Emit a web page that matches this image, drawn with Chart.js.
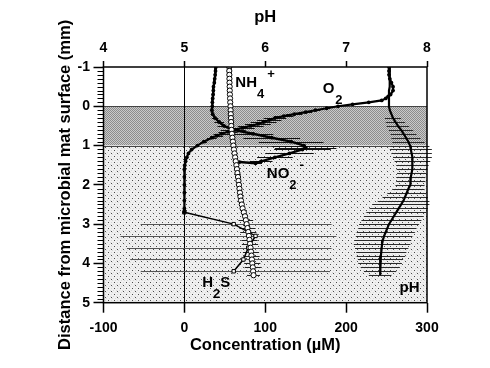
<!DOCTYPE html>
<html>
<head>
<meta charset="utf-8">
<script src="https://cdn.jsdelivr.net/npm/chart.js@4.4.1/dist/chart.umd.min.js"></script>
<style>
  html, body { margin: 0; padding: 0; background: #fff; }
  canvas { display: block; }
</style>
</head>
<body>
<canvas id="chart" width="490" height="368"></canvas>
<script>
// depth in mm (negative = water above the mat), concentrations in µM
const nh4Depth = [-1.0, -0.9, -0.8, -0.7, -0.6, -0.5, -0.4, -0.3, -0.2, -0.1,
  0.0, 0.1, 0.2, 0.3, 0.4, 0.5, 0.6, 0.7, 0.8, 0.9,
  1.0, 1.1, 1.2, 1.3, 1.4, 1.5, 1.6, 1.7, 1.8, 1.9,
  2.0, 2.1, 2.2, 2.3, 2.4, 2.5, 2.6, 2.7, 2.8, 2.9,
  3.0, 3.1, 3.2, 3.3, 3.4, 3.5, 3.6, 3.7, 3.8, 3.9,
  4.0, 4.1, 4.2, 4.3];
const nh4Conc = [55.5, 55.5, 55.6, 55.7, 55.8, 56.0, 56.1, 56.3, 56.5, 56.7,
  57.0, 57.2, 57.4, 57.6, 57.8, 58.0, 58.3, 58.8, 59.4, 60.0,
  60.6, 61.3, 62.0, 62.8, 63.5, 64.3, 65.0, 65.6, 66.3, 66.9,
  67.5, 68.1, 68.7, 69.3, 70.0, 71.0, 72.0, 73.5, 75.0, 76.0,
  77.0, 78.0, 79.0, 79.8, 80.5, 81.2, 81.8, 82.4, 83.0, 83.5,
  84.0, 84.6, 85.0, 85.5];
const nh4Err = [0, 0, 0, 0, 0, 0, 0, 0, 0, 0,
  0, 0, 0, 0, 0, 0, 0, 0, 0, 0,
  0, 0, 0, 0, 0, 0, 0, 0, 0, 0,
  0, 0, 0, 0, 0, 0, 0, 0, 0, 9,
  10, 10, 10, 11, 10, 10, 10, 10, 10, 10,
  10, 10, 9, 8];

const o2Depth = [-1.0, -0.9, -0.8, -0.7, -0.6, -0.5, -0.4, -0.3, -0.25, -0.2,
  -0.15, -0.1, -0.05, 0.0, 0.05, 0.1, 0.15, 0.2, 0.25, 0.3,
  0.35, 0.4, 0.45, 0.5, 0.55, 0.6, 0.65, 0.7, 0.75, 0.8,
  0.9, 1.0, 1.1, 1.2, 1.3, 1.4, 1.5, 1.6, 1.8, 2.0,
  2.2, 2.4, 2.6, 2.7];
const o2Conc = [253, 253, 253, 254, 256, 258, 258, 255, 252, 249,
  244, 228, 208, 190, 176, 162, 150, 136, 123, 112,
  105, 98, 91, 82, 72, 62, 54, 46, 40, 34,
  24, 16, 9, 5, 3, 1.5, 0.5, 0, 0, 0,
  0, 0, 0, 0];
const o2Err = [0, 0, 0, 0, 0, 0, 0, 0, 0, 0,
  0, 0, 0, 0, 4, 6, 8, 10, 12, 14,
  15, 16, 16, 16, 15, 14, 12, 10, 8, 6,
  4, 0, 0, 0, 0, 0, 0, 0, 0, 0,
  0, 0, 0, 0];

const no2Depth = [-1.0, -0.9, -0.8, -0.7, -0.6, -0.5, -0.4, -0.3, -0.2, -0.1,
  0.0, 0.1, 0.2, 0.3, 0.4, 0.5, 0.6, 0.7, 0.8, 0.9,
  1.0, 1.05, 1.1, 1.2, 1.3, 1.4, 1.45, 1.42];
const no2Conc = [39, 38.5, 38, 37.5, 37, 36, 35.8, 35.5, 35, 34.6,
  34.5, 34, 35, 38, 43, 49, 60, 85, 108, 132,
  148, 150, 146, 130, 112, 95, 88, 68];
const no2Err = [0, 0, 0, 0, 0, 0, 0, 0, 0, 0,
  0, 0, 0, 4, 6, 8, 15, 25, 35, 40,
  40, 38, 35, 30, 22, 14, 8, 0];

const h2sDepth = [2.7, 3.0, 3.3, 3.6, 3.9, 4.2];
const h2sConc = [0, 61, 88, 79, 73, 61];
const h2sLow = [0, -54, -79, -71, -67, -54];
const h2sHigh = [0, 182, 188, 182, 182, 180];

const phDepth = nh4Depth.slice();
const phValue = [7.54, 7.54, 7.54, 7.54, 7.54, 7.535, 7.53, 7.53, 7.53, 7.53,
  7.53, 7.54, 7.56, 7.58, 7.61, 7.64, 7.68, 7.71, 7.74, 7.77,
  7.79, 7.80, 7.81, 7.82, 7.82, 7.82, 7.815, 7.81, 7.80, 7.80,
  7.79, 7.77, 7.75, 7.73, 7.71, 7.68, 7.65, 7.62, 7.59, 7.56,
  7.53, 7.51, 7.49, 7.47, 7.455, 7.445, 7.44, 7.435, 7.43, 7.425,
  7.42, 7.42, 7.42, 7.42];
const phErr = [0, 0, 0, 0, 0, 0, 0, 0, 0, 0,
  0, 0, 0, 0.10, 0.12, 0.14, 0.15, 0.16, 0.18, 0.20,
  0.24, 0.26, 0.25, 0.24, 0.22, 0.20, 0.19, 0.18, 0.18, 0.18,
  0.18, 0.20, 0.24, 0.28, 0.32, 0.35, 0.36, 0.37, 0.37, 0.37,
  0.37, 0.36, 0.36, 0.35, 0.35, 0.35, 0.33, 0.31, 0.30, 0.28,
  0.27, 0.24, 0.20, 0.14];

const concTicks = [-100, 0, 100, 200, 300];
const phTicks = [4, 5, 6, 7, 8];
const depthTicks = [-1, 0, 1, 2, 3, 4, 5];
const zoneEdges = [0, 1, 5]; // dark mat layer, then dotted sediment

const FONT = '"Liberation Sans", Arial, Helvetica, sans-serif';
Chart.defaults.font.family = FONT;
Chart.defaults.font.weight = 'bold';
Chart.defaults.color = '#000';

const ctx = document.getElementById('chart').getContext('2d');

function points(depth, vals) {
  return depth.map((d, i) => ({ x: vals[i], y: d }));
}
function withErr(ds, vals, err) {
  ds.errLow = vals.map((v, i) => v - err[i]);
  ds.errHigh = vals.map((v, i) => v + err[i]);
  return ds;
}

function makePattern(size, draw) {
  const c = document.createElement('canvas');
  c.width = size; c.height = size;
  draw(c.getContext('2d'));
  return ctx.createPattern(c, 'repeat');
}
const darkFill = makePattern(2, g => {
  g.fillStyle = '#cacaca'; g.fillRect(0, 0, 2, 2);
  g.fillStyle = '#8c8c8c'; g.fillRect(0, 0, 1, 1); g.fillRect(1, 1, 1, 1);
});
const dotFill = makePattern(6, g => {
  g.fillStyle = '#f0f0f0'; g.fillRect(0, 0, 6, 6);
  g.fillStyle = '#d8d8d8';
  for (let i = 0; i < 6; i += 2) { g.fillRect(i, i, 1, 1); g.fillRect((i + 3) % 6, i, 1, 1); }
  g.fillStyle = '#4a4a4a'; g.fillRect(0, 0, 1, 1); g.fillRect(3, 3, 1, 1);
});

const backdrop = {
  id: 'backdrop',
  beforeDraw(chart) {
    const c = chart.ctx, a = chart.chartArea, ys = chart.scales.y;
    c.save();
    c.fillStyle = '#fff';
    c.fillRect(0, 0, chart.width, chart.height);
    const y0 = ys.getPixelForValue(zoneEdges[0]);
    const y1 = ys.getPixelForValue(zoneEdges[1]);
    const y2 = ys.getPixelForValue(zoneEdges[2]);
    c.fillStyle = darkFill;
    c.fillRect(a.left, y0, a.right - a.left, y1 - y0);
    c.fillStyle = dotFill;
    c.fillRect(a.left, y1, a.right - a.left, y2 - y1);
    c.strokeStyle = '#444';
    c.lineWidth = 1;
    [y0, y1].forEach(y => {
      c.beginPath();
      c.moveTo(a.left, Math.round(y) + 0.5);
      c.lineTo(a.right, Math.round(y) + 0.5);
      c.stroke();
    });
    c.restore();
  }
};

const errorBars = {
  id: 'errorBars',
  beforeDatasetsDraw(chart) {
    const c = chart.ctx;
    chart.data.datasets.forEach((ds, i) => {
      if (!ds.errLow) return;
      const meta = chart.getDatasetMeta(i);
      const xs = chart.scales[meta.xAxisID], ys = chart.scales[meta.yAxisID];
      c.save();
      c.strokeStyle = ds.errColor || '#000';
      c.lineWidth = 1;
      ds.data.forEach((p, j) => {
        if (ds.errLow[j] === ds.errHigh[j]) return;
        const y = Math.round(ys.getPixelForValue(p.y)) + 0.5;
        c.beginPath();
        c.moveTo(xs.getPixelForValue(ds.errLow[j]), y);
        c.lineTo(xs.getPixelForValue(ds.errHigh[j]), y);
        c.stroke();
      });
      c.restore();
    });
  }
};

// chemical labels: [text, kind] where kind 0 = normal, 1 = subscript, 2 = superscript
function chemLabel(c, x, y, parts) {
  parts.forEach(([t, kind, gap]) => {
    const size = kind === 0 ? 15 : 13;
    c.font = 'bold ' + size + 'px ' + FONT;
    x += gap || 0;
    const dy = kind === 1 ? 11 : kind === 2 ? -9 : 0;
    c.fillText(t, x, y + dy);
    x += c.measureText(t).width;
  });
}

const decorations = {
  id: 'decorations',
  afterDraw(chart) {
    const c = chart.ctx, a = chart.chartArea;
    const xs = chart.scales.x, ys = chart.scales.y;
    c.save();
    // minor depth ticks
    c.strokeStyle = '#000';
    c.lineWidth = 1;
    for (let i = -10; i <= 50; i++) {
      if (i % 10 === 0) continue;
      const y = Math.round(ys.getPixelForValue(i / 10)) + 0.5;
      c.beginPath(); c.moveTo(a.left - 6, y); c.lineTo(a.left, y); c.stroke();
    }
    // frame
    c.lineWidth = 1.5;
    c.strokeRect(a.left, a.top, a.right - a.left, a.bottom - a.top);
    // series labels
    c.fillStyle = '#000';
    c.textBaseline = 'alphabetic';
    c.textAlign = 'left';
    const px = v => xs.getPixelForValue(v), py = d => ys.getPixelForValue(d);
    chemLabel(c, px(63), py(-0.48), [['NH', 0], ['4', 1], ['+', 2, 3]]);
    chemLabel(c, px(171), py(-0.35), [['O', 0], ['2', 1, 1]]);
    chemLabel(c, px(102), py(1.83), [['NO', 0], ['2', 1], ['-', 2, 3]]);
    chemLabel(c, px(22), py(4.61), [['H', 0], ['2', 1], ['S', 0]]);
    chemLabel(c, px(266), py(4.74), [['pH', 0]]);
    c.restore();
  }
};

new Chart(ctx, {
  type: 'scatter',
  data: {
    datasets: [
      withErr({
        label: 'NH4+',
        data: points(nh4Depth, nh4Conc),
        showLine: true,
        borderColor: '#000',
        borderWidth: 1,
        pointRadius: 2.6,
        pointBackgroundColor: '#fff',
        pointBorderColor: '#000',
        pointBorderWidth: 1,
        errColor: '#222'
      }, nh4Conc, nh4Err),
      withErr({
        label: 'O2',
        data: points(o2Depth, o2Conc),
        showLine: true,
        borderColor: '#000',
        borderWidth: 2.2,
        pointRadius: 1.9,
        pointBackgroundColor: '#000',
        pointBorderWidth: 0,
        errColor: '#111'
      }, o2Conc, o2Err),
      withErr({
        label: 'NO2-',
        data: points(no2Depth, no2Conc),
        showLine: true,
        borderColor: '#000',
        borderWidth: 2.4,
        pointRadius: 1.9,
        pointBackgroundColor: '#000',
        pointBorderWidth: 0,
        errColor: '#111'
      }, no2Conc, no2Err),
      {
        label: 'H2S',
        data: points(h2sDepth, h2sConc),
        showLine: true,
        borderColor: '#000',
        borderWidth: 1.5,
        pointStyle: 'rect',
        pointRadius: 2.4,
        pointBackgroundColor: '#fff',
        pointBorderColor: '#000',
        pointBorderWidth: 1,
        errLow: h2sLow,
        errHigh: h2sHigh,
        errColor: '#555'
      },
      withErr({
        label: 'pH',
        xAxisID: 'xPH',
        data: points(phDepth, phValue),
        showLine: true,
        borderColor: '#000',
        borderWidth: 2.2,
        pointRadius: 0,
        errColor: '#2a2a2a'
      }, phValue, phErr)
    ]
  },
  options: {
    responsive: false,
    animation: false,
    layout: { padding: { left: 0, right: 63, top: 0, bottom: 0 } },
    plugins: { legend: { display: false }, tooltip: { enabled: false } },
    scales: {
      x: {
        type: 'linear',
        position: 'bottom',
        min: -100,
        max: 300,
        afterBuildTicks: s => { s.ticks = concTicks.map(v => ({ value: v })); },
        afterFit: s => { s.height = 65.3; },
        ticks: { font: { size: 14, weight: 'bold' }, padding: 7, maxRotation: 0, callback: v => String(v) },
        grid: {
          drawOnChartArea: true,
          color: c => (c.tick && c.tick.value === 0 ? '#000' : 'rgba(0,0,0,0)'),
          lineWidth: 1,
          tickLength: 10,
          tickColor: '#000',
          tickWidth: 1.5
        },
        border: { display: false },
        title: {
          display: true,
          text: 'Concentration (µM)',
          font: { size: 16.5, weight: 'bold' },
          padding: { top: 0, bottom: 13 }
        }
      },
      xPH: {
        type: 'linear',
        position: 'top',
        min: 4,
        max: 8,
        afterBuildTicks: s => { s.ticks = phTicks.map(v => ({ value: v })); },
        afterFit: s => { s.height = 67; },
        ticks: { font: { size: 14, weight: 'bold' }, padding: 4, maxRotation: 0, callback: v => String(v) },
        grid: { drawOnChartArea: false, tickLength: 6, tickColor: '#000', tickWidth: 1.5 },
        border: { display: false },
        title: {
          display: true,
          text: 'pH',
          font: { size: 16.5, weight: 'bold' },
          padding: { top: 8, bottom: 0 }
        }
      },
      y: {
        type: 'linear',
        position: 'left',
        reverse: true,
        min: -1,
        max: 5,
        afterBuildTicks: s => { s.ticks = depthTicks.map(v => ({ value: v })); },
        afterFit: s => { s.width = 103.5; },
        ticks: { font: { size: 14, weight: 'bold' }, padding: 3.5, callback: v => String(v) },
        grid: { drawOnChartArea: false, tickLength: 10, tickColor: '#000', tickWidth: 1.5 },
        border: { display: false },
        title: {
          display: true,
          text: 'Distance from microbial mat surface (mm)',
          font: { size: 16.5, weight: 'bold' },
          padding: { top: 56, bottom: 0 }
        }
      }
    }
  },
  plugins: [backdrop, errorBars, decorations]
});
</script>
</body>
</html>
